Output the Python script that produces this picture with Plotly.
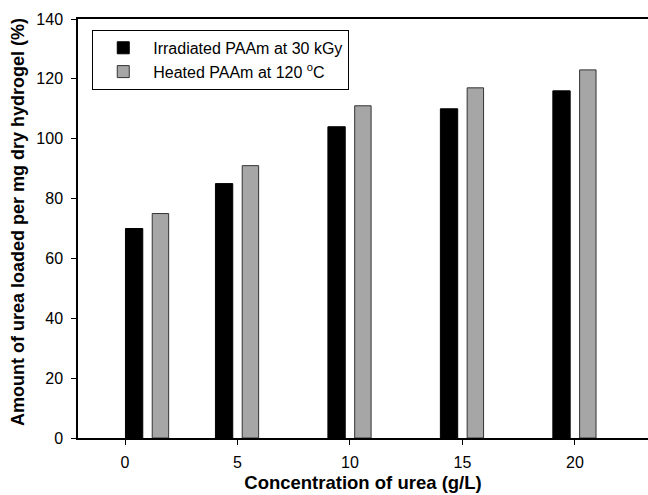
import plotly.graph_objects as go

# Data
concentration_ticks = [0, 5, 10, 15, 20]
bar_positions = [1, 5, 10, 15, 20]          # plotted centre of each bar pair, as seen in the picture
irradiated = [70, 85, 104, 110, 116]        # Irradiated PAAm at 30 kGy
heated = [75, 91, 111, 117, 123]            # Heated PAAm at 120 °C
y_ticks = [0, 20, 40, 60, 80, 100, 120, 140]

font_family = "Liberation Sans, Arial, sans-serif"

fig = go.Figure()
fig.add_trace(go.Bar(
    x=bar_positions, y=irradiated, name="Irradiated PAAm at 30 kGy",
    offset=-0.98, width=0.77,
    marker=dict(color="#000000", line=dict(color="#000000", width=1)),
))
fig.add_trace(go.Bar(
    x=bar_positions, y=heated, name="Heated PAAm at 120 <sup>o</sup>C",
    offset=0.21, width=0.73,
    marker=dict(color="#a6a6a6", line=dict(color="#333333", width=1)),
))

fig.update_layout(
    width=648, height=495,
    margin=dict(l=78, r=0, t=19, b=57, autoexpand=False),
    barmode="overlay",
    plot_bgcolor="white", paper_bgcolor="white",
    font=dict(family=font_family, size=16, color="black"),
    showlegend=True,
    legend=dict(
        x=0.025, y=0.974, xanchor="left", yanchor="top",
        bordercolor="black", borderwidth=1, bgcolor="white",
        font=dict(size=16, family=font_family),
        itemwidth=50, tracegroupgap=0,
    ),
    xaxis=dict(
        range=[-2.09, 23.25],
        tickmode="array", tickvals=concentration_ticks,
        ticktext=[str(v) for v in concentration_ticks],
        ticks="outside", ticklen=5, tickcolor="black",
        showline=True, linecolor="black", linewidth=1.5, mirror=True,
        showgrid=False, zeroline=False,
        tickfont=dict(size=16),
        ticklabelstandoff=4,
        automargin=False,
        title=dict(text="Concentration of urea (g/L)",
                   font=dict(size=18.5, weight="bold"), standoff=6),
    ),
    yaxis=dict(
        range=[0, 140],
        tickmode="array", tickvals=y_ticks,
        ticks="outside", ticklen=5, tickcolor="black",
        showline=True, linecolor="black", linewidth=1.5,
        showgrid=False, zeroline=False,
        tickfont=dict(size=16),
        ticklabelstandoff=5,
        automargin=False,
    ),
    annotations=[dict(
        text="Amount of urea loaded per mg dry hydrogel (%)",
        textangle=-90, xref="paper", yref="paper",
        x=-(78 - 18) / 570, y=(438 - 222) / 419,
        xanchor="center", yanchor="middle", showarrow=False,
        font=dict(size=18, weight="bold", family=font_family),
    )],
)

fig.write_html("out.html")
